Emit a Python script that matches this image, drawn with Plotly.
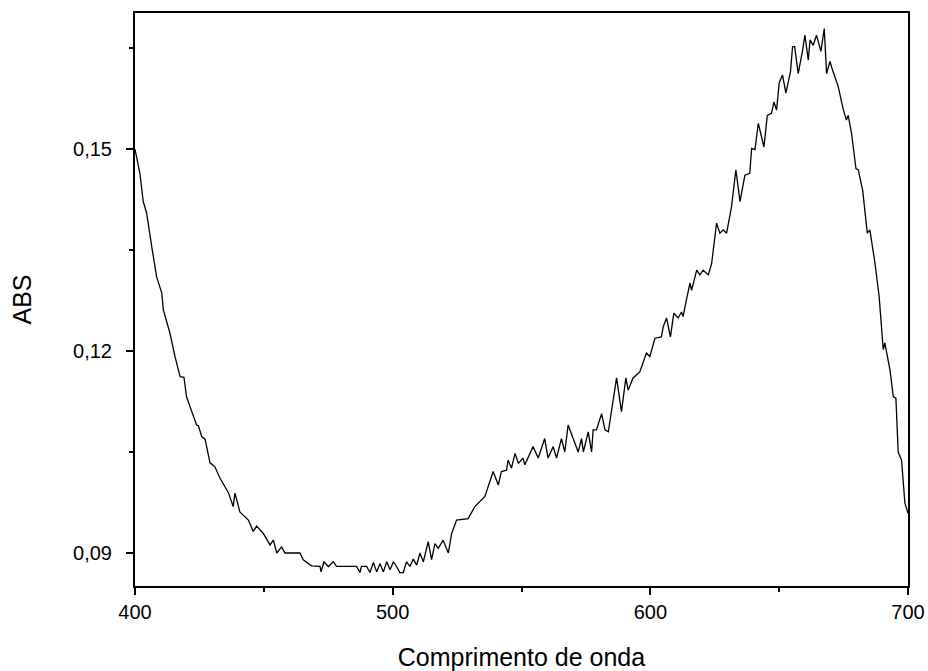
import plotly.graph_objects as go

wavelength = [
    400.0, 401.9, 403.2, 404.5, 406.5, 408.4, 410.4, 411.0, 413.6, 415.5,
    417.5, 419.0, 420.0, 422.6, 423.9, 424.6, 425.9, 427.2, 429.1, 431.0,
    433.0, 436.2, 438.1, 438.8, 440.7, 444.0, 445.9, 447.2, 449.8, 452.4,
    453.7, 455.0, 456.9, 458.2, 464.0, 465.3, 468.5, 471.8, 472.2, 473.3,
    475.0, 477.0, 478.2, 486.0, 487.3, 487.9, 489.9, 491.2, 492.5, 493.8,
    495.1, 496.4, 497.7, 499.0, 500.3, 501.5, 502.8, 504.1, 505.4, 506.7,
    508.0, 509.3, 510.6, 511.9, 513.8, 515.1, 516.4, 517.7, 519.6, 521.6,
    522.9, 524.8, 529.3, 531.9, 535.8, 539.0, 541.0, 542.2, 544.2, 544.8,
    546.1, 547.5, 548.8, 550.6, 551.3, 554.5, 556.5, 559.0, 560.3, 562.3,
    563.6, 565.5, 566.8, 568.1, 570.1, 572.0, 573.3, 574.0, 575.9, 577.2,
    577.8, 579.1, 581.1, 582.4, 583.7, 586.9, 588.8, 590.5, 591.4, 593.3,
    595.9, 598.5, 599.8, 601.8, 604.3, 605.0, 606.3, 607.8, 609.1, 610.8,
    612.1, 612.7, 614.0, 615.4, 616.0, 618.0, 619.2, 620.5, 622.5, 623.8,
    625.7, 627.0, 628.3, 629.6, 631.5, 633.2, 634.8, 636.7, 638.6, 639.3,
    640.6, 641.9, 644.1, 645.4, 647.0, 648.0, 649.0, 650.0, 651.3, 652.6,
    654.4, 655.2, 656.0, 657.4, 659.1, 660.0, 661.3, 662.0, 663.2, 664.5,
    666.2, 667.5, 668.4, 669.7, 670.9, 672.9, 674.8, 676.1, 676.8, 678.1,
    679.8, 680.7, 682.4, 684.2, 685.2, 687.2, 688.8, 690.4, 691.0, 693.0,
    694.3, 695.3, 696.2, 697.5, 698.8, 700.0,
]

absorbance = [
    0.1500, 0.1464, 0.1422, 0.1405, 0.1355, 0.1310, 0.1286, 0.1261, 0.1226, 0.1192,
    0.1162, 0.1161, 0.1132, 0.1102, 0.1090, 0.1089, 0.1073, 0.1069, 0.1034, 0.1028,
    0.1011, 0.0990, 0.0969, 0.0989, 0.0961, 0.0949, 0.0932, 0.0940, 0.0929, 0.0912,
    0.0919, 0.0900, 0.0909, 0.0900, 0.0900, 0.0890, 0.0881, 0.0880, 0.0872, 0.0887,
    0.0880, 0.0887, 0.0880, 0.0880, 0.0871, 0.0880, 0.0880, 0.0871, 0.0886, 0.0872,
    0.0884, 0.0872, 0.0887, 0.0875, 0.0887, 0.0880, 0.0871, 0.0871, 0.0887, 0.0880,
    0.0891, 0.0882, 0.0900, 0.0887, 0.0917, 0.0890, 0.0914, 0.0907, 0.0919, 0.0900,
    0.0929, 0.0949, 0.0951, 0.0969, 0.0984, 0.1021, 0.1001, 0.1021, 0.1023, 0.1038,
    0.1026, 0.1048, 0.1033, 0.1041, 0.1031, 0.1058, 0.1041, 0.1070, 0.1041, 0.1058,
    0.1041, 0.1070, 0.1050, 0.1090, 0.1068, 0.1050, 0.1070, 0.1050, 0.1080, 0.1050,
    0.1083, 0.1083, 0.1107, 0.1083, 0.1080, 0.1160, 0.1110, 0.1160, 0.1142, 0.1160,
    0.1169, 0.1197, 0.1192, 0.1219, 0.1221, 0.1236, 0.1249, 0.1221, 0.1256, 0.1249,
    0.1258, 0.1251, 0.1276, 0.1301, 0.1290, 0.1320, 0.1313, 0.1320, 0.1313, 0.1330,
    0.1390, 0.1375, 0.1380, 0.1375, 0.1414, 0.1469, 0.1422, 0.1461, 0.1464, 0.1501,
    0.1499, 0.1538, 0.1503, 0.1550, 0.1553, 0.1570, 0.1558, 0.1598, 0.1610, 0.1583,
    0.1615, 0.1652, 0.1652, 0.1612, 0.1647, 0.1669, 0.1632, 0.1662, 0.1654, 0.1669,
    0.1645, 0.1679, 0.1612, 0.1630, 0.1615, 0.1593, 0.1560, 0.1543, 0.1550, 0.1523,
    0.1471, 0.1469, 0.1439, 0.1375, 0.1380, 0.1330, 0.1281, 0.1202, 0.1212, 0.1172,
    0.1132, 0.1130, 0.1050, 0.1038, 0.0974, 0.0959,
]

x_ticks = [400, 500, 600, 700]
y_ticks = [0.09, 0.12, 0.15]

fig = go.Figure()
fig.add_trace(go.Scatter(
    x=wavelength, y=absorbance, mode="lines",
    line=dict(color="black", width=1.3),
    showlegend=False, cliponaxis=True,
))

font_family = "Liberation Sans, Arial, sans-serif"

fig.update_layout(
    width=928, height=671,
    margin=dict(l=135, r=20, t=13, b=85, autoexpand=False),
    paper_bgcolor="white", plot_bgcolor="white",
    separators=",.",
    font=dict(family=font_family, color="black", size=20),
)

fig.update_xaxes(
    range=[400, 700], tickvals=x_ticks, ticktext=[str(v) for v in x_ticks],
    showgrid=False, zeroline=False, automargin=False,
    showline=True, linecolor="black", linewidth=2, mirror=True,
    ticks="outside", ticklen=7, tickwidth=1.5, tickcolor="black",
    tickfont=dict(size=20, family=font_family),
    minor=dict(ticks="outside", ticklen=4, tickwidth=1.5, tickcolor="black",
               tick0=400, dtick=50, showgrid=False),
    title=dict(text="Comprimento de onda", font=dict(size=25, family=font_family), standoff=28),
)

fig.update_yaxes(
    range=[0.0851, 0.1702], tickvals=y_ticks, tickformat=".2f",
    showgrid=False, zeroline=False, automargin=False,
    showline=True, linecolor="black", linewidth=2, mirror=True,
    ticks="outside", ticklen=7, tickwidth=1.5, tickcolor="black",
    ticklabelstandoff=10,
    tickfont=dict(size=20, family=font_family),
    minor=dict(ticks="outside", ticklen=4, tickwidth=1.5, tickcolor="black",
               tick0=0.09, dtick=0.015, showgrid=False),
    title=dict(text="ABS", font=dict(size=25, family=font_family), standoff=34),
)

fig.write_html(
    "out.html",
    config={"displayModeBar": False},
    post_script="document.body.style.margin='0';document.body.style.overflow='hidden';",
)
